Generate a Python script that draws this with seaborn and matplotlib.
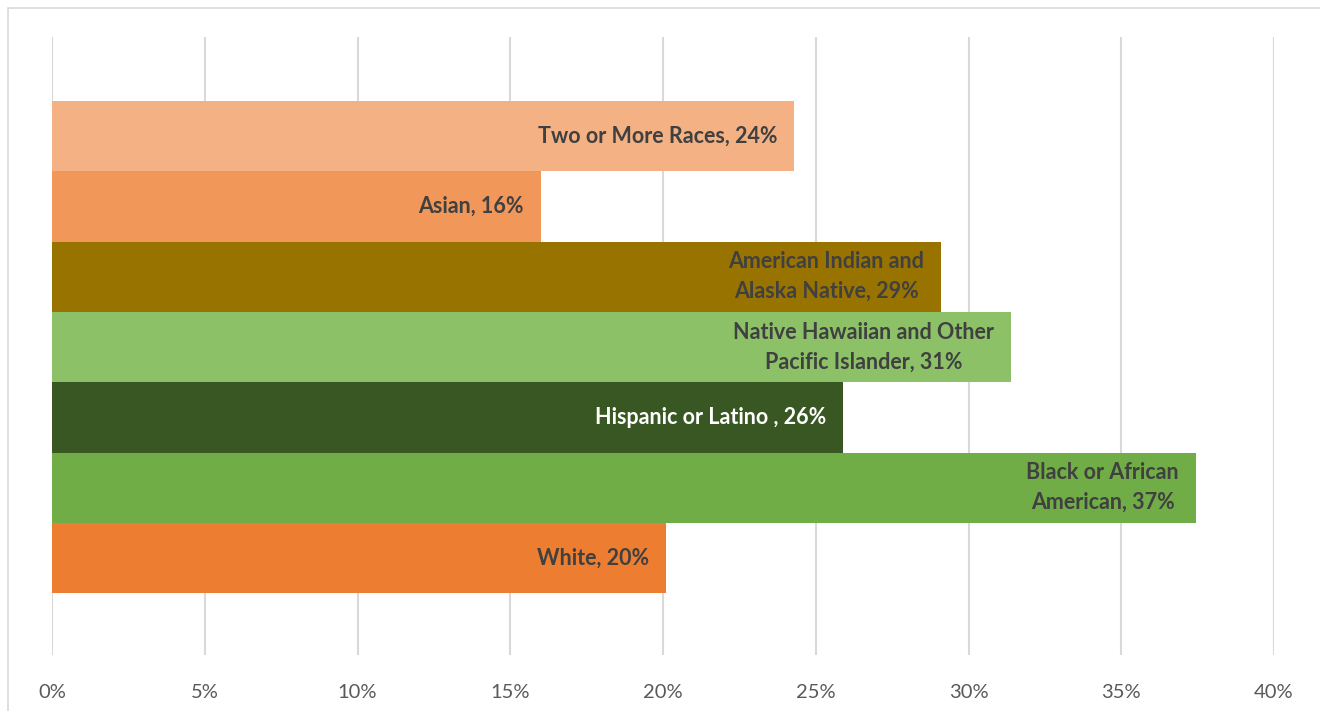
import matplotlib
matplotlib.use("Agg")
import matplotlib.pyplot as plt
import seaborn as sns
import pandas as pd
from matplotlib.patches import Rectangle

categories = ["Two or More Races", "Asian", "American Indian and\nAlaska Native",
              "Native Hawaiian and Other\nPacific Islander", "Hispanic or Latino ",
              "Black or African\nAmerican", "White"]
values = [24.3, 16.0, 29.1, 31.4, 25.9, 37.45, 20.1]
value_labels = ["24%", "16%", "29%", "31%", "26%", "37%", "20%"]
colors = ["#F4B183", "#F1975A", "#997300", "#8CC168", "#385723", "#70AD47", "#ED7D31"]
label_colors = ["#404040", "#404040", "#404040", "#404040", "#FFFFFF", "#404040", "#404040"]
xticks = [0, 5, 10, 15, 20, 25, 30, 35, 40]

df = pd.DataFrame({"cat": categories, "val": values})

sns.set_style("white")
plt.rcParams["font.family"] = ["Lato", "DejaVu Sans"]

fig = plt.figure(figsize=(13.2, 7.11), dpi=100)
fig.patches.append(Rectangle((8 / 1320, -0.1), 1.2, (711 - 8) / 711 + 0.1,
                             transform=fig.transFigure, fill=False,
                             edgecolor="#D9D9D9", linewidth=1.2, zorder=0))
ax = fig.add_axes([52 / 1320, (711 - 655) / 711, 1222 / 1320, 618 / 711])

sns.barplot(data=df, x="val", y="cat", hue="cat", palette=colors, width=1.0,
            orient="h", legend=False, ax=ax, saturation=1, linewidth=0,
            edgecolor="none", zorder=3)

ax.set_xlim(0, 40)
ax.set_ylim(7.38, -1.41)
ax.set_xticks(xticks)
ax.set_xticklabels([f"{t}%" for t in xticks], color="#595959", fontsize=14.5)
ax.tick_params(axis="x", length=0, pad=21)
ax.set_yticks([])
ax.set_xlabel("")
ax.set_ylabel("")
ax.grid(axis="x", color="#D9D9D9", linewidth=1.5, zorder=0)
ax.set_axisbelow(True)
for s in ax.spines.values():
    s.set_visible(False)

for i, (c, v, vl) in enumerate(zip(categories, values, value_labels)):
    ax.annotate(f"{c}, {vl}", xy=(v, i), xytext=(-17, 0),
                textcoords="offset pixels",
                ha="right", va="center", multialignment="center",
                fontsize=15.5, fontweight="bold", color=label_colors[i],
                linespacing=1.5, zorder=5)

fig.savefig("out.png", dpi=100)
